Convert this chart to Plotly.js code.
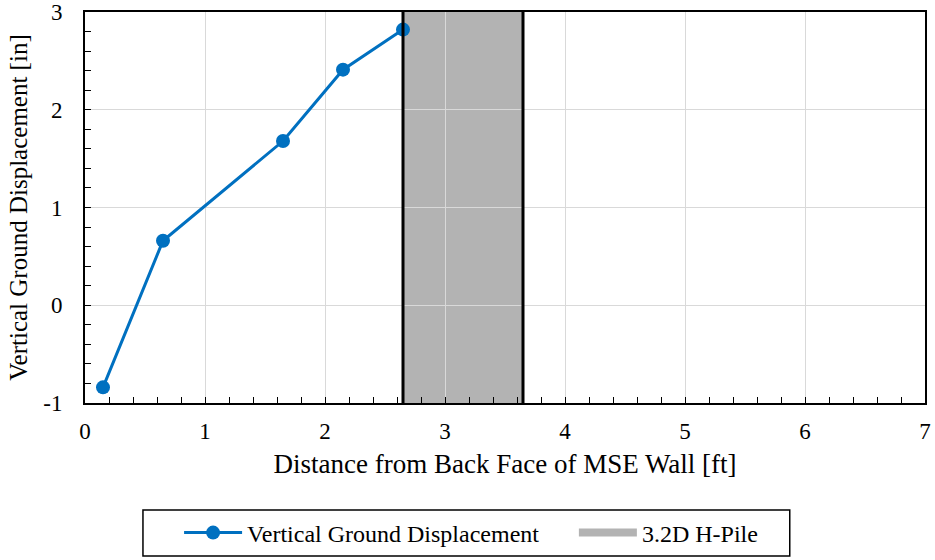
<!DOCTYPE html>
<html>
<head>
<meta charset="utf-8">
<script src="https://cdn.plot.ly/plotly-3.0.1.min.js"></script>
<style>html,body{margin:0;padding:0;background:#fff;}#chart{width:935px;height:560px;}</style>
</head>
<body>
<div id="chart"></div>
<script>
const distance = [0.15, 0.65, 1.65, 2.15, 2.65];
const displacement = [-0.84, 0.66, 1.68, 2.41, 2.82];
const pileStart = 2.65;
const pileEnd = 3.65;
const seriesName = "Vertical Ground Displacement";
const pileName = "3.2D H-Pile";
const yTickVals = [-1, 0, 1, 2, 3];
const yTickText = ["-1", "0", "1", "2", "3"];

const font = "Times New Roman, DejaVu Serif";

const traces = [
  {
    x: distance, y: displacement, type: "scatter", mode: "lines+markers",
    name: seriesName,
    line: {color: "#0070C0", width: 3},
    marker: {color: "#0070C0", size: 14},
    cliponaxis: false,
    legend: "legend"
  },
  {
    x: [null], y: [null], type: "scatter", mode: "lines",
    name: pileName,
    line: {color: "#b3b3b3", width: 8},
    legend: "legend2"
  }
];

const legendCommon = {
  orientation: "h", yanchor: "middle", y: -0.3325, xanchor: "left",
  borderwidth: 0, bgcolor: "rgba(0,0,0,0)",
  font: {family: font, size: 24},
  itemwidth: 58
};

const layout = {
  width: 935, height: 560,
  margin: {l: 85, r: 10, t: 12, b: 157, autoexpand: false},
  paper_bgcolor: "#fff", plot_bgcolor: "#fff",
  font: {family: font, size: 20, color: "#000"},
  xaxis: {
    range: [0, 7], dtick: 1, tick0: 0,
    showgrid: true, gridcolor: "#d9d9d9", gridwidth: 1,
    zeroline: false,
    showline: true, linecolor: "#000", linewidth: 2, mirror: true,
    ticks: "inside", ticklen: 6, tickcolor: "#000", tickwidth: 1,
    minor: {dtick: 0.2, ticks: "inside", ticklen: 6, tickcolor: "#000", showgrid: false},
    tickfont: {family: font, size: 23},
    ticklabelstandoff: 6,
    title: {text: "Distance from Back Face of MSE Wall [ft]", font: {family: font, size: 27}, standoff: 12}
  },
  yaxis: {
    range: [-1, 3],
    tickmode: "array", tickvals: yTickVals, ticktext: yTickText,
    showgrid: true, gridcolor: "#d9d9d9", gridwidth: 1,
    zeroline: false,
    showline: true, linecolor: "#000", linewidth: 2, mirror: true,
    ticks: "inside", ticklen: 6, tickcolor: "#000", tickwidth: 1,
    minor: {tickmode: "linear", tick0: -1, dtick: 0.2, ticks: "inside", ticklen: 6, tickcolor: "#000", showgrid: false},
    tickfont: {family: font, size: 23},
    ticklabelstandoff: 16,
    title: {text: "Vertical Ground Displacement [in]", font: {family: font, size: 25}, standoff: 8}
  },
  shapes: [
    {type: "rect", xref: "x", yref: "paper", x0: pileStart, x1: pileEnd, y0: 0, y1: 1,
     fillcolor: "#b3b3b3", line: {width: 0}, layer: "below"},
    {type: "line", xref: "x", yref: "paper", x0: pileStart, x1: pileStart, y0: 0, y1: 1,
     line: {color: "#000", width: 3}},
    {type: "line", xref: "x", yref: "paper", x0: pileEnd, x1: pileEnd, y0: 0, y1: 1,
     line: {color: "#000", width: 3}},
    {type: "rect", xref: "paper", yref: "paper", x0: 0.069, x1: 0.839, y0: -0.2737, y1: -0.391,
     fillcolor: "rgba(0,0,0,0)", line: {color: "#000", width: 1.5}}
  ],
  showlegend: true,
  legend: Object.assign({}, legendCommon, {x: 0.112}),
  legend2: Object.assign({}, legendCommon, {x: 0.582})
};

Plotly.newPlot("chart", traces, layout, {displayModeBar: false, staticPlot: true});
</script>
</body>
</html>
